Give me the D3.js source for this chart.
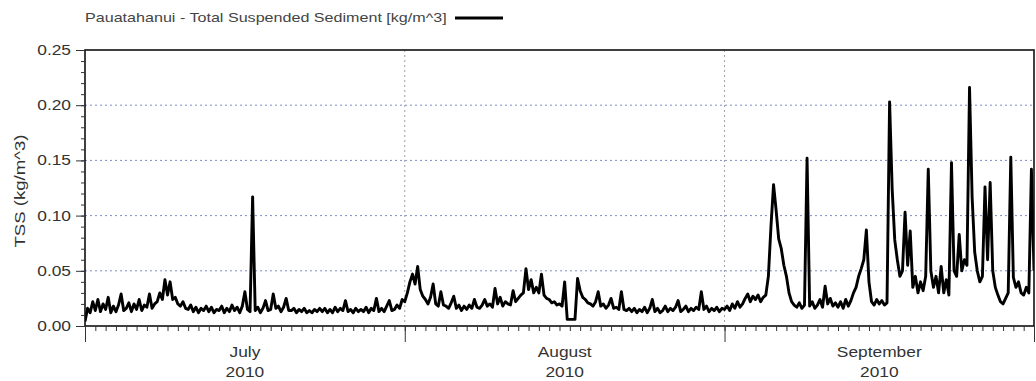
<!DOCTYPE html>
<html>
<head>
<meta charset="utf-8">
<script src="https://cdn.jsdelivr.net/npm/d3@7"></script>
<style>
  body { margin: 0; background: #fff; }
  svg { display: block; }
  text { font-family: "Liberation Sans", Arial, sans-serif; fill: #333; }
</style>
</head>
<body>
<svg id="chart" width="1036" height="381"></svg>
<script>
// ---- data -------------------------------------------------------------
const seriesName = "Pauatahanui - Total Suspended Sediment [kg/m^3]";
const yAxisTitle = "TSS (kg/m^3)";
const startTime = new Date(2010, 6, 1);   // first sample, 1 July 2010 00:00
const endTime = new Date(2010, 9, 1);     // end of record, 1 October 2010
const stepHours = 6;                      // sampling interval

// Total suspended sediment, kg/m^3, one row per day (4 samples a day)
const tss = [
  // July
  .004,.016,.012,.022, .014,.024,.013,.020, .015,.026,.012,.018, .013,.019,.029,.014,
  .016,.021,.013,.020, .015,.024,.014,.019, .017,.029,.016,.020, .022,.030,.024,.042,
  .028,.040,.024,.026, .020,.018,.022,.016, .015,.019,.013,.017, .012,.016,.014,.018,
  .013,.017,.012,.015, .014,.018,.012,.016, .013,.019,.014,.017, .012,.018,.031,.015,
  .013,.117,.014,.017, .012,.016,.023,.014, .015,.029,.016,.018, .013,.017,.025,.014,
  .014,.016,.012,.015, .013,.016,.012,.014, .012,.015,.013,.016, .013,.016,.012,.015,
  .012,.017,.013,.016, .014,.023,.013,.015, .012,.016,.013,.015, .013,.017,.012,.016,
  .014,.025,.013,.016, .013,.018,.023,.014, .015,.019,.016,.024,
  // August
  .022,.030,.040,.047, .038,.054,.033,.027, .024,.020,.026,.038, .020,.018,.031,.019,
  .018,.016,.021,.027, .016,.019,.014,.018, .015,.019,.016,.024, .017,.016,.019,.024,
  .018,.020,.017,.034, .020,.026,.018,.022, .020,.019,.032,.022, .025,.028,.030,.052,
  .033,.042,.030,.035, .030,.047,.028,.025, .024,.021,.022,.019, .020,.018,.040,.006,
  .006,.006,.006,.043, .032,.026,.024,.021, .020,.018,.022,.031, .018,.020,.016,.019,
  .025,.016,.017,.015, .031,.015,.014,.016, .013,.016,.012,.015, .013,.017,.012,.016,
  .024,.013,.016,.012, .014,.018,.013,.016, .014,.017,.023,.013, .015,.018,.013,.016,
  .014,.017,.015,.031, .015,.018,.013,.016, .014,.017,.013,.016,
  // September
  .015,.018,.014,.020, .016,.022,.017,.020, .025,.029,.022,.027, .024,.028,.022,.026,
  .028,.045,.090,.128, .105,.079,.070,.055, .045,.030,.022,.019, .017,.021,.016,.019,
  .152,.018,.022,.016, .019,.024,.017,.036, .020,.025,.018,.021, .017,.022,.016,.024,
  .018,.023,.030,.035, .045,.052,.060,.087, .040,.022,.019,.024, .020,.023,.019,.021,
  .203,.124,.078,.060, .045,.050,.103,.055, .086,.035,.045,.030, .040,.032,.045,.142,
  .050,.035,.045,.030, .054,.030,.042,.028, .148,.050,.045,.083, .050,.060,.055,.216,
  .117,.067,.050,.040, .045,.126,.060,.130, .050,.035,.028,.022, .020,.025,.030,.153,
  .044,.035,.040,.030, .028,.035,.030,.142,
  // 1 October 00:00
  .050
];

const yMajorTicks = [0, 0.05, 0.10, 0.15, 0.20, 0.25];
const yGridValues = [0.05, 0.10, 0.15, 0.20];
const monthNames = ["July", "August", "September"];
const yearLabel = "2010";

// ---- layout -----------------------------------------------------------
const svg = d3.select("#chart");
const plot = { left: 85, right: 1034, top: 50, bottom: 326 };
const textStretch = 1.24;   // glyphs are drawn slightly widened

const x = d3.scaleTime().domain([startTime, endTime]).range([plot.left, plot.right]);
const y = d3.scaleLinear().domain([0, 0.25]).range([plot.bottom, plot.top]);

const points = tss.map((v, i) => ({ t: d3.timeHour.offset(startTime, i * stepHours), v }));

function label(parent, px, py, str, anchor, size, rotate) {
  return parent.append("text")
    .attr("transform", `translate(${px},${py})` + (rotate ? ` rotate(${rotate})` : "") + ` scale(${textStretch},1)`)
    .attr("text-anchor", anchor)
    .style("font-size", size + "px")
    .text(str);
}

// ---- grid -------------------------------------------------------------
const grid = svg.append("g");
grid.selectAll("line.h").data(yGridValues).join("line")
  .attr("x1", plot.left).attr("x2", plot.right)
  .attr("y1", d => y(d)).attr("y2", d => y(d))
  .attr("stroke", "#7f8cc6").attr("stroke-width", 1)
  .attr("stroke-dasharray", "2,3");

const monthStarts = d3.timeMonth.range(startTime, endTime).slice(1);
grid.selectAll("line.v").data(monthStarts).join("line")
  .attr("x1", d => x(d)).attr("x2", d => x(d))
  .attr("y1", plot.top).attr("y2", plot.bottom)
  .attr("stroke", "#a0a0a0").attr("stroke-width", 1)
  .attr("stroke-dasharray", "2,3");

// ---- series -----------------------------------------------------------
svg.append("clipPath").attr("id", "clip").append("rect")
  .attr("x", plot.left).attr("y", plot.top)
  .attr("width", plot.right - plot.left).attr("height", plot.bottom - plot.top);

svg.append("path")
  .datum(points)
  .attr("clip-path", "url(#clip)")
  .attr("fill", "none")
  .attr("stroke", "#000")
  .attr("stroke-width", 2.9)
  .attr("stroke-linejoin", "round")
  .attr("d", d3.line().x(d => x(d.t)).y(d => y(d.v)));

// ---- frame ------------------------------------------------------------
svg.append("rect")
  .attr("x", plot.left).attr("y", plot.top)
  .attr("width", plot.right - plot.left).attr("height", plot.bottom - plot.top)
  .attr("fill", "none").attr("stroke", "#111").attr("stroke-width", 1.6);

// ---- x axis -----------------------------------------------------------
const xMinor = d3.axisBottom(x).ticks(d3.timeDay.every(1)).tickSize(5).tickFormat("");
const xMajor = d3.axisBottom(x).ticks(d3.timeMonth.every(1)).tickSize(16).tickFormat("");
[xMinor, xMajor].forEach(ax => {
  const g = svg.append("g").attr("transform", `translate(0,${plot.bottom})`).call(ax);
  g.select(".domain").remove();
  g.selectAll(".tick line").attr("stroke", "#333").attr("stroke-width", 1);
});

const monthMids = d3.timeMonth.range(startTime, endTime)
  .map(m => new Date((+m + +d3.timeMonth.offset(m, 1)) / 2));
monthMids.forEach((mid, i) => {
  label(svg, x(mid), 357, monthNames[i], "middle", 14);
  label(svg, x(mid), 377, yearLabel, "middle", 14);
});

// ---- y axis -----------------------------------------------------------
const yMinor = d3.axisLeft(y).tickValues(d3.range(0, 0.2501, 0.01)).tickSize(4).tickFormat("");
const yMajor = d3.axisLeft(y).tickValues(yMajorTicks).tickSize(9).tickFormat("");
[yMinor, yMajor].forEach(ax => {
  const g = svg.append("g").attr("transform", `translate(${plot.left},0)`).call(ax);
  g.select(".domain").remove();
  g.selectAll(".tick line").attr("stroke", "#333").attr("stroke-width", 1);
});
yMajorTicks.forEach(v => label(svg, 71, y(v) + 5, d3.format(".2f")(v), "end", 14));

label(svg, 25, 191, yAxisTitle, "middle", 15, -90);

// ---- legend -----------------------------------------------------------
label(svg, 85, 22, seriesName, "start", 13).style("fill", "#444");
svg.append("line")
  .attr("x1", 455).attr("x2", 503).attr("y1", 18).attr("y2", 18)
  .attr("stroke", "#000").attr("stroke-width", 3);
</script>
</body>
</html>
